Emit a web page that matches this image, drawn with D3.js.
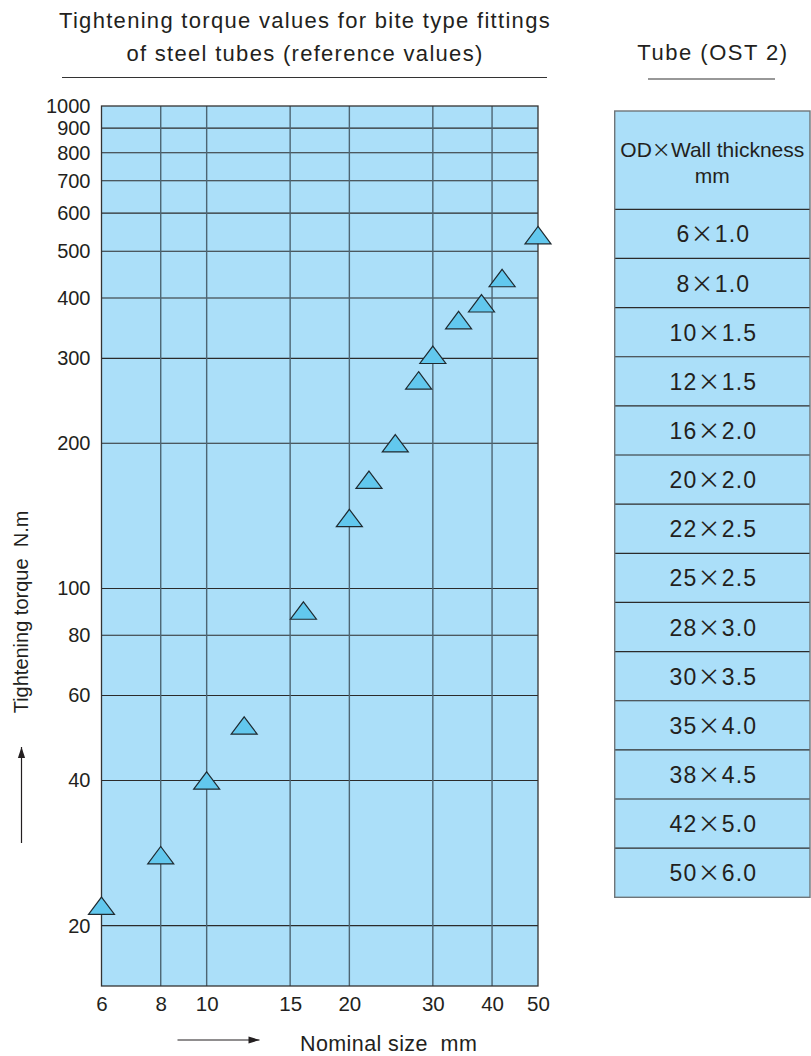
<!DOCTYPE html>
<html>
<head>
<meta charset="utf-8">
<script src="https://cdn.jsdelivr.net/npm/d3@7"></script>
<style>
  body { margin: 0; background: #fff; }
  text { font-family: "Liberation Sans", Arial, sans-serif; fill: #231f20; }
</style>
</head>
<body>
<script>
// tube sizes (OD x wall), torque read from the triangles
var tubeOD = [6, 8, 10, 12, 16, 20, 22, 25, 28, 30, 35, 38, 42, 50];
var wallThickness = ['1.0', '1.0', '1.5', '1.5', '2.0', '2.0', '2.5', '2.5', '3.0', '3.5', '4.0', '4.5', '5.0', '6.0'];
var markerSize = [6, 8, 10, 12, 16, 20, 22, 25, 28, 30, 34, 38, 42, 50];
var torqueValues = [22, 28, 40, 52, 90, 140, 168, 200, 270, 305, 360, 390, 440, 540];

var xTicks = [6, 8, 10, 15, 20, 30, 40, 50];
var yTicks = [20, 40, 60, 80, 100, 200, 300, 400, 500, 600, 700, 800, 900, 1000];

var titleLines = ['Tightening torque values for bite type fittings', 'of steel tubes (reference values)'];

var bg = '#abdff9';
var triFill = '#62c8ee';

var svg = d3.select('body').append('svg')
    .attr('width', 811)
    .attr('height', 1056);

var scX = d3.scaleLog().domain([6, 50]).range([101.5, 538]);
var scY = d3.scaleLog().domain([15, 1000]).range([986, 106]);

// plot background
svg.append('rect')
    .attr('x', scX(6)).attr('y', scY(1000))
    .attr('width', scX(50) - scX(6)).attr('height', scY(15) - scY(1000))
    .attr('fill', bg);

// grid
svg.append('g').selectAll('line')
    .data(yTicks.filter(d => d < 1000))
    .enter().append('line')
    .attr('x1', scX(6)).attr('x2', scX(50))
    .attr('y1', d => scY(d)).attr('y2', d => scY(d))
    .attr('stroke', '#2b2b2b').attr('stroke-width', 1.2);

svg.append('g').selectAll('line')
    .data(xTicks.filter(d => d > 6 && d < 50))
    .enter().append('line')
    .attr('x1', d => scX(d)).attr('x2', d => scX(d))
    .attr('y1', scY(1000)).attr('y2', scY(15))
    .attr('stroke', '#4d6573').attr('stroke-width', 1.4);

svg.append('rect')
    .attr('x', scX(6)).attr('y', scY(1000))
    .attr('width', scX(50) - scX(6)).attr('height', scY(15) - scY(1000))
    .attr('fill', 'none').attr('stroke', '#333').attr('stroke-width', 1.3);

// axes (labels only)
var yAxis = svg.append('g')
    .attr('transform', 'translate(' + scX(6) + ',0)')
    .call(d3.axisLeft(scY).tickValues(yTicks).tickSize(0).tickPadding(11).tickFormat(d3.format('d')));
yAxis.select('.domain').remove();
yAxis.selectAll('text').attr('font-size', 20).attr('fill', '#231f20');
yAxis.attr('font-family', null);

var xAxis = svg.append('g')
    .attr('transform', 'translate(0,' + scY(15) + ')')
    .call(d3.axisBottom(scX).tickValues(xTicks).tickSize(0).tickPadding(10).tickFormat(d3.format('d')));
xAxis.select('.domain').remove();
xAxis.selectAll('text').attr('font-size', 20.5).attr('fill', '#231f20');
xAxis.attr('font-family', null);

// triangles
var tri = 'M0,-8.7L13,8.7L-13,8.7Z';
svg.append('g').selectAll('path')
    .data(torqueValues)
    .enter().append('path')
    .attr('d', tri)
    .attr('fill', triFill)
    .attr('stroke', '#1f2a30')
    .attr('stroke-width', 1.2)
    .attr('transform', (d, i) => 'translate(' + scX(markerSize[i]) + ',' + scY(d) + ')');

// title
svg.append('g').selectAll('text')
    .data(titleLines)
    .enter().append('text')
    .attr('x', 305).attr('y', (d, i) => 28 + i * 33)
    .attr('text-anchor', 'middle')
    .attr('font-size', 22)
    .attr('letter-spacing', 1.3)
    .text(d => d);
svg.append('line')
    .attr('x1', 62).attr('x2', 547).attr('y1', 77.5).attr('y2', 77.5)
    .attr('stroke', '#333').attr('stroke-width', 1.2);

// axis titles + arrows
function arrow(x1, y1, x2, y2) {
    var ang = Math.atan2(y2 - y1, x2 - x1) * 180 / Math.PI;
    var g = svg.append('g');
    g.append('line')
        .attr('x1', x1).attr('y1', y1).attr('x2', x2).attr('y2', y2)
        .attr('stroke', '#231f20').attr('stroke-width', 1.2);
    g.append('path')
        .attr('d', 'M0,0L-11,-3.6L-11,3.6Z')
        .attr('fill', '#231f20')
        .attr('transform', 'translate(' + x2 + ',' + y2 + ') rotate(' + ang + ')');
}
arrow(177.5, 1040, 259.5, 1040);
arrow(21.5, 843, 21.5, 747);

svg.append('text')
    .attr('x', 300).attr('y', 1050.5)
    .attr('font-size', 21.5)
    .attr('letter-spacing', 0.4)
    .style('white-space', 'pre')
    .text('Nominal size  mm');

svg.append('text')
    .attr('transform', 'translate(28,612) rotate(-90)')
    .attr('text-anchor', 'middle')
    .attr('font-size', 20)
    .style('white-space', 'pre')
    .text('Tightening torque  N.m');

// tube table
var tblX = 614.7, tblW = 195.3;
svg.append('text')
    .attr('x', 713).attr('y', 60)
    .attr('text-anchor', 'middle')
    .attr('font-size', 22)
    .attr('letter-spacing', 1.5)
    .text('Tube (OST 2)');
svg.append('line')
    .attr('x1', 648).attr('x2', 775).attr('y1', 79).attr('y2', 79)
    .attr('stroke', '#333').attr('stroke-width', 1.2);

var rowLabels = tubeOD.map((d, i) => d + '|' + wallThickness[i]);
var scRow = d3.scaleBand().domain(rowLabels).range([209.3, 897.3]);

svg.append('rect')
    .attr('x', tblX).attr('y', 111).attr('width', tblW).attr('height', 209.3 - 111)
    .attr('fill', bg);
var head = svg.append('text')
    .attr('x', tblX + tblW / 2).attr('y', 156.5)
    .attr('text-anchor', 'middle')
    .attr('font-size', 21)
    .attr('font-family', '"Liberation Sans Narrow", "Liberation Sans", sans-serif');
head.append('tspan').text('OD');
head.append('tspan').attr('font-family', '"Noto Sans CJK JP"').attr('font-size', 19).text('×');
head.append('tspan').text('Wall thickness');
svg.append('text')
    .attr('x', tblX + tblW / 2).attr('y', 183.3)
    .attr('text-anchor', 'middle')
    .attr('font-size', 21)
    .attr('font-family', '"Liberation Sans Narrow", "Liberation Sans", sans-serif')
    .text('mm');

var rows = svg.append('g').selectAll('g')
    .data(rowLabels)
    .enter().append('g');
rows.append('rect')
    .attr('x', tblX).attr('y', d => scRow(d))
    .attr('width', tblW).attr('height', scRow.bandwidth())
    .attr('fill', bg);
var rowText = rows.append('text')
    .attr('x', tblX + tblW / 2 + 1)
    .attr('y', d => scRow(d) + scRow.bandwidth() / 2 + 8.5)
    .attr('text-anchor', 'middle')
    .attr('font-size', 23)
    .attr('letter-spacing', 1.2);
rowText.append('tspan').text(d => d.split('|')[0]);
rowText.append('tspan').attr('font-family', '"Noto Sans CJK JP"').text('×');
rowText.append('tspan').text(d => d.split('|')[1]);

// row dividers
svg.append('g').selectAll('line')
    .data(rowLabels)
    .enter().append('line')
    .attr('x1', tblX).attr('x2', tblX + tblW)
    .attr('y1', d => scRow(d)).attr('y2', d => scRow(d))
    .attr('stroke', '#2b2b2b').attr('stroke-width', 1.2);
svg.append('rect')
    .attr('x', tblX).attr('y', 111).attr('width', tblW).attr('height', 897.3 - 111)
    .attr('fill', 'none').attr('stroke', '#6f7579').attr('stroke-width', 1.4);
</script>
</body>
</html>
